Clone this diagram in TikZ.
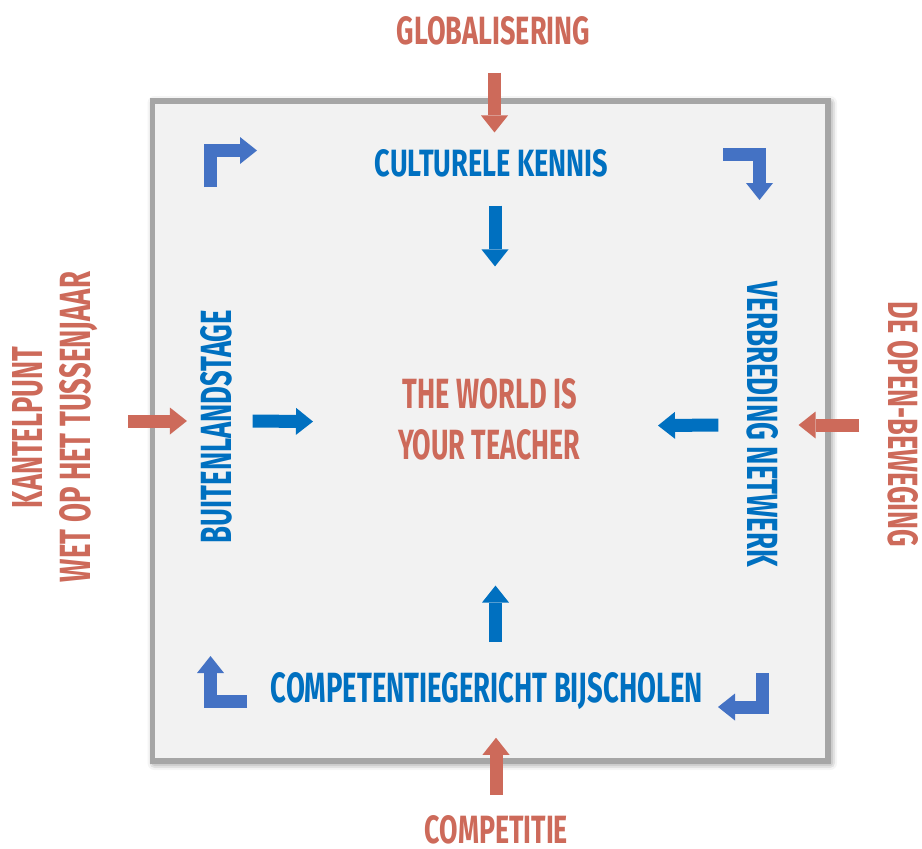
\documentclass[tikz,border=0pt]{standalone}
\usepackage{fontspec}
\newfontfamily\lblfont{Fira Sans}
\usetikzlibrary{arrows.meta,shadows.blur}
\definecolor{tred}{RGB}{205,106,90}
\definecolor{tblue}{RGB}{0,112,192}
\definecolor{cblue}{RGB}{68,114,196}
\definecolor{boxfill}{RGB}{242,242,242}
\newcommand{\lbl}[3]{\resizebox{#1pt}{#2pt}{\lblfont\bfseries #3}}

\begin{document}
\begin{tikzpicture}[x=1pt,y=-1pt,
  rtxt/.style={text=tred, inner sep=0pt},
  btxt/.style={text=tblue, inner sep=0pt},
  arr/.style={line width=13pt, line join=miter, -{Triangle[width=27pt,length=17pt,line width=0pt]}},
  rarr/.style={arr, draw=tred},
  barr/.style={arr, draw=tblue},
  carr/.style={arr, draw=cblue}]
\useasboundingbox (0,0) rectangle (922,849);
% the box
\draw[line width=5.5pt, draw=gray!70, fill=boxfill,
  blur shadow={shadow xshift=2pt, shadow yshift=-2pt, shadow blur radius=7pt, shadow opacity=60}]
  (152.5,101) rectangle (828,761);

% labels
\node[rtxt] (glob) at (493.5,31) {\lbl{193}{28}{GLOBALISERING}};
\node[btxt] (kult) at (491.5,163.5) {\lbl{233}{27}{CULTURELE KENNIS}};
\node[rtxt] (world1) at (490,394) {\lbl{174}{30}{THE WORLD IS}};
\node[rtxt] (world2) at (489,445) {\lbl{182}{30}{YOUR TEACHER}};
\node[btxt] (bijsch) at (487,691) {\lbl{432}{30}{COMPETENTIEGERICHT BIJSCHOLEN}};
\node[rtxt] (comp) at (496.5,829.5) {\lbl{143}{28}{COMPETITIE}};
\node[rtxt, rotate=90] (kantel) at (28,427.5) {\lbl{161}{30}{KANTELPUNT}};
\node[rtxt, rotate=90] (wet) at (79,427) {\lbl{310}{31}{WET OP HET TUSSENJAAR}};
\node[btxt, rotate=90] (buiten) at (216,426.5) {\lbl{233}{31}{BUITENLANDSTAGE}};
\node[btxt, rotate=-90] (verbr) at (762.5,424.5) {\lbl{285}{31}{VERBREDING NETWERK}};
\node[rtxt, rotate=-90] (deopen) at (903,424.5) {\lbl{245}{30}{DE OPEN-BEWEGING}};

% straight arrows
\draw[rarr] ([xshift=1pt,yshift=-27pt]glob.south) -- ([xshift=3pt,yshift=17pt]kult.north);
\draw[barr] ([xshift=3.5pt,yshift=-28pt]kult.south) -- ([xshift=5pt,yshift=112pt]world1.north);
\draw[barr] ([xshift=8.5pt,yshift=30pt]bijsch.north) -- ([xshift=6.5pt,yshift=-125pt]world2.south);
\draw[rarr] ([xshift=-0.5pt,yshift=20pt]comp.north) -- ([xshift=9pt,yshift=-28pt]bijsch.south);
\draw[rarr] ([xshift=30pt,yshift=6pt]wet.south) -- ([xshift=-13pt,yshift=5.5pt]buiten.north);
\draw[barr] ([xshift=20.5pt,yshift=5.5pt]buiten.south) -- ([xshift=-177pt,yshift=-12pt]world1.south);
\draw[rarr] ([xshift=-28pt,yshift=-0.5pt]deopen.south) -- ([xshift=20pt,yshift=-0.5pt]verbr.north);
\draw[barr] ([xshift=-28pt,yshift=-0.5pt]verbr.south) -- ([xshift=168pt,yshift=-16pt]world1.south);

% bent arrows in the corners
\draw[carr] (210.5,187) -- (210.5,150.5) -- (257,150.5);
\draw[carr] (723,154.5) -- (759.5,154.5) -- (759.5,200);
\draw[carr] (762.5,673) -- (762.5,707) -- (718,707);
\draw[carr] (247,701.5) -- (210.5,701.5) -- (210.5,656);
\end{tikzpicture}
\end{document}
